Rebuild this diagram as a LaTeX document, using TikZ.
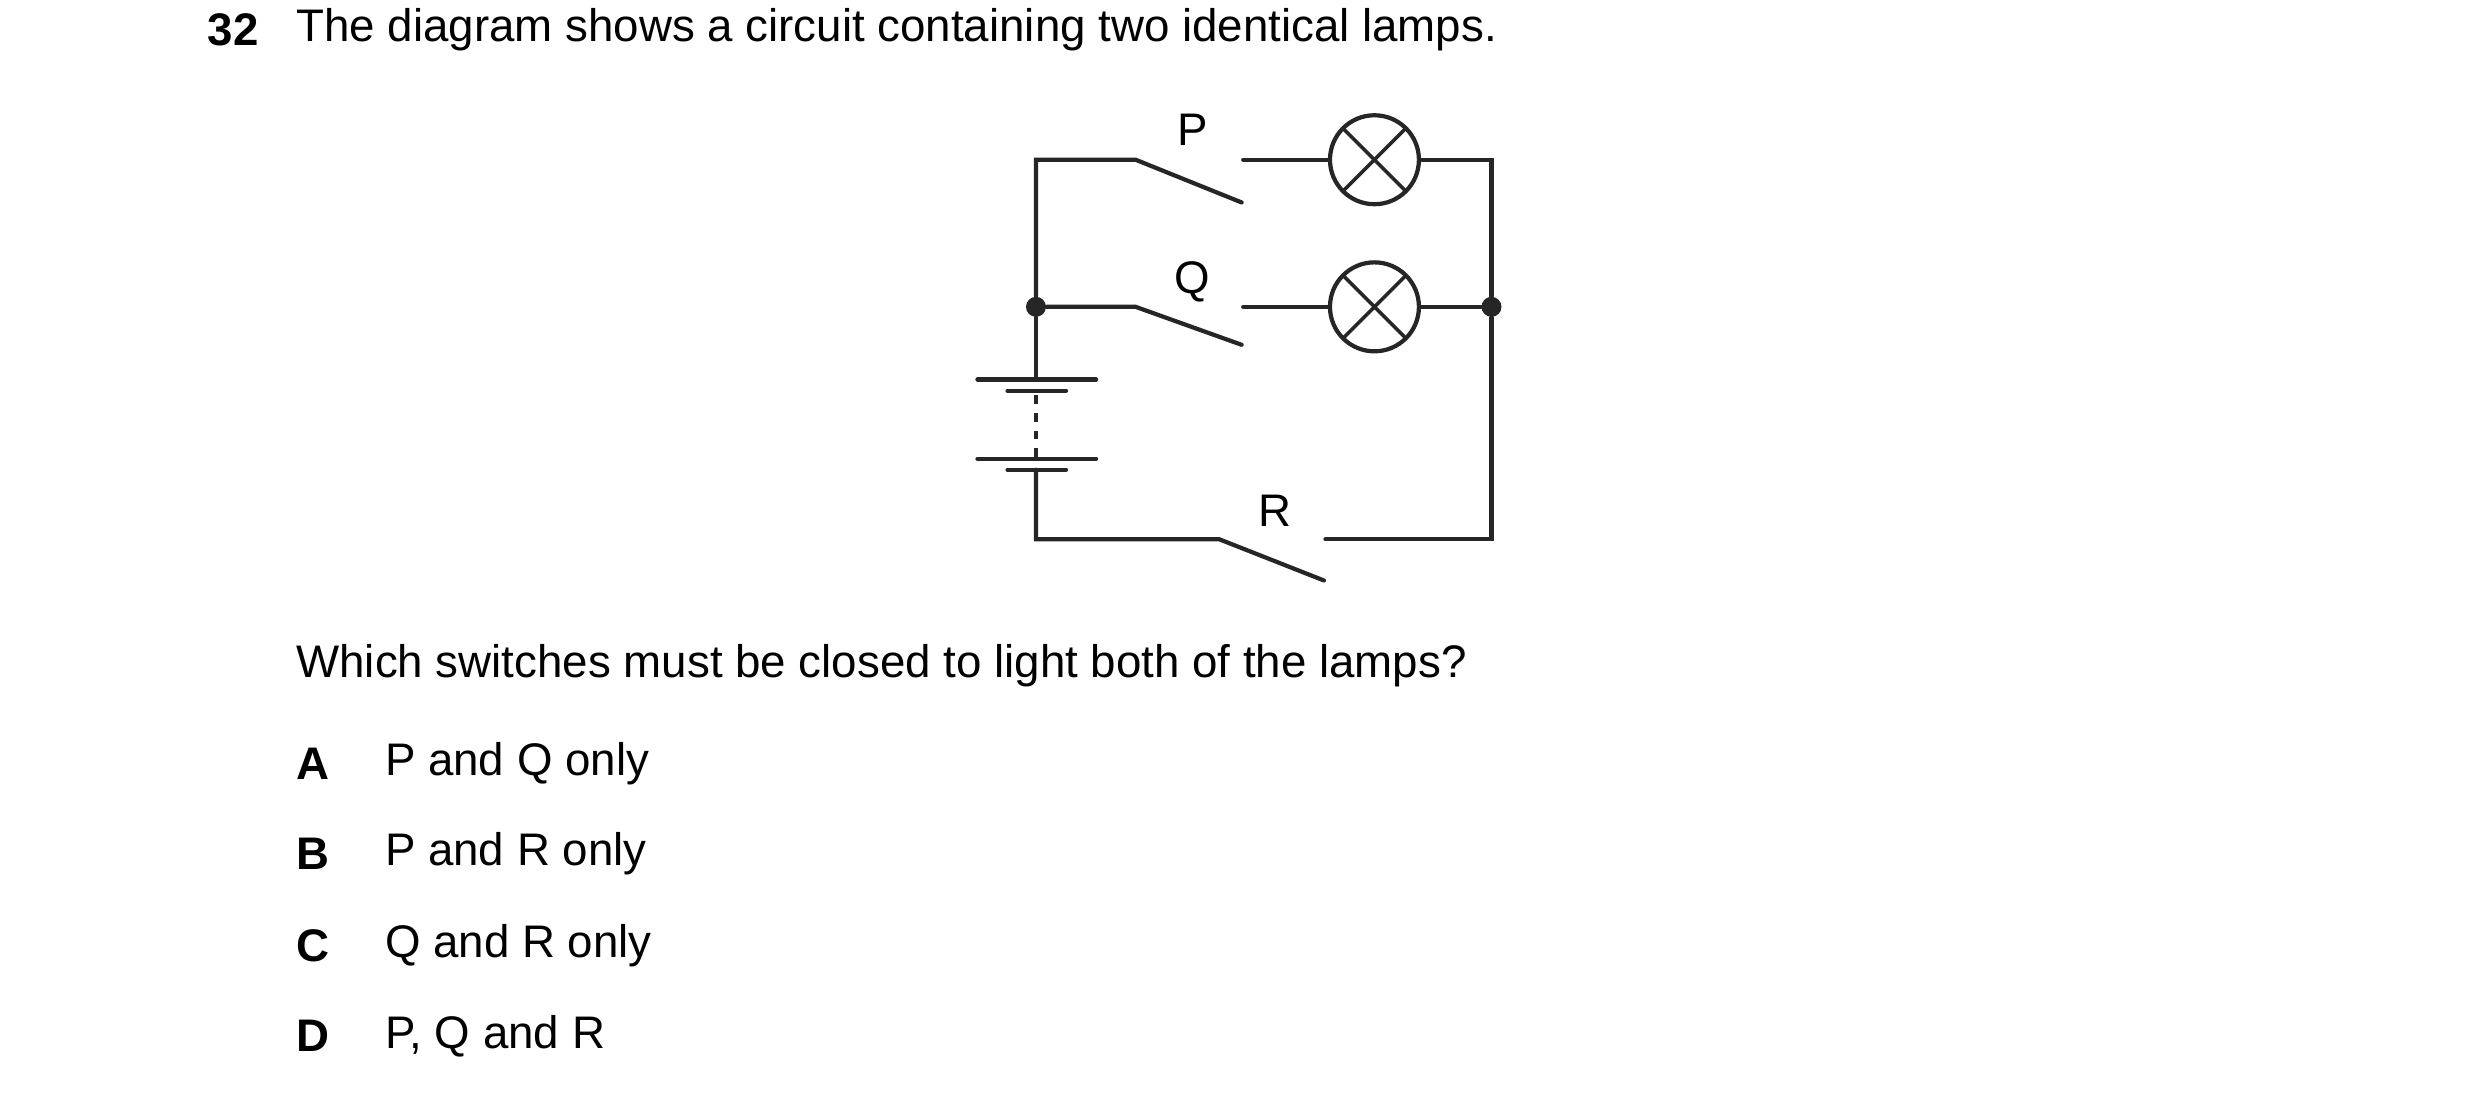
\documentclass[tikz,border=0pt]{standalone}
\usepackage{fontspec}
\setmainfont{Liberation Sans}
\usetikzlibrary{positioning}
\tikzset{
	wire/.style={line width=1.2pt,line cap=round,draw=black!85},
	lamp/.style={circle,draw=black!85,line width=1.2pt,minimum size=0.89cm,inner sep=0pt,
		path picture={\draw[line width=1.0pt,black!85] (path picture bounding box.south west)--(path picture bounding box.north east)
			(path picture bounding box.north west)--(path picture bounding box.south east);}},
	txt/.style={font=\fontsize{13pt}{15pt}\selectfont,anchor=west,inner sep=0pt},
	dot/.style={circle,fill=black!85,minimum size=0.2cm,inner sep=0pt}
}
\begin{document}
\begin{tikzpicture}[x=0.01582cm,y=-0.01582cm]
	\useasboundingbox (0,0) rectangle (1568,692);
	% text
	\node[txt,font=\fontsize{13pt}{15pt}\selectfont\bfseries] (num) at (131,19) {32};
	\node[txt] (head) at (187,19) {The diagram shows a circuit containing two identical lamps.};
	\node[txt] (quest) at (187,421) {Which switches must be closed to light both of the lamps?};
	\foreach \l/\t/\y in {A/P and Q only/483,B/P and R only/540,C/Q and R only/598,D/{P, Q and R}/655}{
		\node[txt,font=\fontsize{13pt}{15pt}\selectfont\bfseries] (opt\l) at (187,\y) {\l};
		\node[txt] (ans\l) at (243,\y) {\t};
	}
	% circuit
	\node[lamp] (lampP) at (869,101) {};
	\node[lamp] (lampQ) at (869,194) {};
	\node[dot] (jl) at (655,194) {};
	\node[dot] (jr) at (943,194) {};
	\coordinate (tl) at (655,101);
	\coordinate (tr) at (943,101);
	\coordinate (bl) at (655,341);
	\coordinate (br) at (943,341);
	\coordinate (pA) at (718,101); \coordinate (pB) at (785,128); \coordinate (pC) at (786,101);
	\coordinate (qA) at (718,194); \coordinate (qB) at (785,218); \coordinate (qC) at (786,194);
	\coordinate (rA) at (771,341); \coordinate (rB) at (837,367); \coordinate (rC) at (838,341);
	\node (labP) at (754,82) {\fontsize{13pt}{15pt}\selectfont P};
	\node (labQ) at (754,178) {\fontsize{13pt}{15pt}\selectfont Q};
	\node (labR) at (806,323) {\fontsize{13pt}{15pt}\selectfont R};
	\draw[wire] (jl) -- (tl) -- (pA) -- (pB);
	\draw[wire] (pC) -- (lampP.west) (lampP.east) -- (tr) -- (jr);
	\draw[wire] (jl) -- (qA) -- (qB);
	\draw[wire] (qC) -- (lampQ.west) (lampQ.east) -- (jr);
	\draw[wire] (jr) -- (br) -- (rC);
	\draw[wire] (rB) -- (rA) -- (bl) -- (655,297);
	% battery
	\draw[wire] (jl) -- (655,240);
	\draw[wire] (618,240) -- (693,240) (637,247) -- (674,247);
	\draw[wire] (618,290) -- (693,290) (637,297) -- (674,297);
	\draw[line width=1.2pt,black!85,dash pattern=on 2.5pt off 2.5pt] (655,250) -- (655,289);
\end{tikzpicture}
\end{document}
